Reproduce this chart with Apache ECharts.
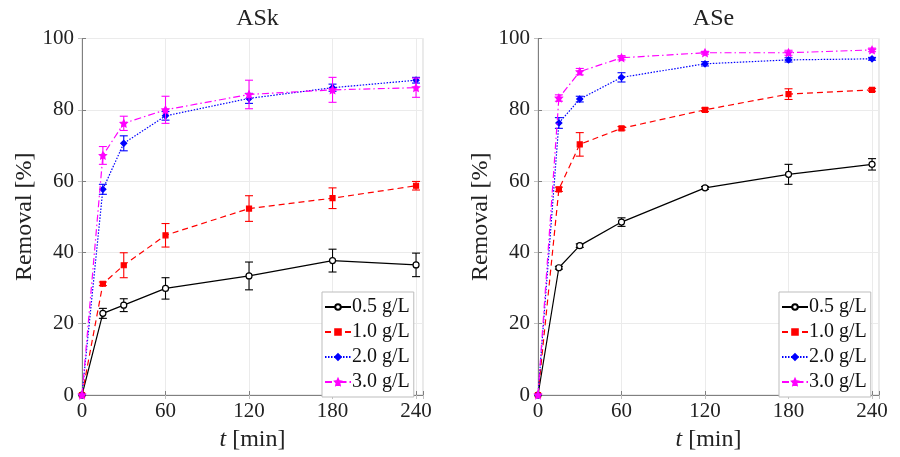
<!DOCTYPE html>
<html>
<head>
<meta charset="utf-8">
<script src="https://cdn.jsdelivr.net/npm/echarts@6/dist/echarts.min.js"></script>
<style>
  html, body { margin: 0; padding: 0; background: #fff; }
  #chart { width: 900px; height: 457px; }
</style>
</head>
<body>
<div id="chart"></div>
<script>
// Sampling times [min] and adsorbent doses
const times = [0, 15, 30, 60, 120, 180, 240];
const doses = ['0.5 g/L', '1.0 g/L', '2.0 g/L', '3.0 g/L'];
const xTicks = [0, 60, 120, 180, 240];
const panelTitles = ['ASk', 'ASe'];

// ASk: mean removal [%] and error (±)
const askMean05 = [0, 22.9, 25.2, 29.9, 33.4, 37.7, 36.5];
const askErr05  = [0, 1.4, 1.8, 3.0, 3.9, 3.2, 3.3];
const askMean10 = [0, 31.2, 36.4, 44.8, 52.3, 55.2, 58.7];
const askErr10  = [0, 0.5, 3.5, 3.3, 3.6, 2.9, 1.2];
const askMean20 = [0, 57.7, 70.6, 78.3, 83.2, 86.2, 88.3];
const askErr20  = [0, 1.4, 2.1, 1.2, 1.4, 1.0, 0.8];
const askMean30 = [0, 67.2, 76.2, 80.0, 84.3, 85.6, 86.2];
const askErr30  = [0, 2.5, 2.0, 3.8, 4.0, 3.5, 2.7];

// ASe: mean removal [%] and error (±)
const aseMean05 = [0, 35.7, 41.9, 48.5, 58.1, 61.9, 64.7];
const aseErr05  = [0, 0.4, 0.5, 1.2, 0.4, 2.8, 1.6];
const aseMean10 = [0, 57.7, 70.3, 74.8, 80.0, 84.4, 85.6];
const aseErr10  = [0, 0.6, 3.3, 0.5, 0.5, 1.5, 0.4];
const aseMean20 = [0, 76.3, 83.0, 89.1, 92.9, 94.0, 94.3];
const aseErr20  = [0, 1.5, 0.8, 1.3, 0.6, 0.6, 0.4];
const aseMean30 = [0, 83.3, 90.7, 94.6, 96.0, 96.0, 96.8];
const aseErr30  = [0, 0.9, 0.9, 0.6, 0.4, 0.7, 0.5];

const FONT = 'Liberation Serif';
const starPath = 'path://M0,-10L2.9,-4L9.5,-3.1L4.7,1.5L5.9,8.1L0,5L-5.9,8.1L-4.7,1.5L-9.5,-3.1L-2.9,-4Z';

// Per-dose look: colour, line dash, marker
const styles = [
  { color: '#000000', dash: 'solid',          symbol: 'circle',  size: 6, fill: '#ffffff' },
  { color: '#ff0000', dash: [6, 4],           symbol: 'rect',    size: 5, fill: '#ff0000' },
  { color: '#0000ff', dash: [1.5, 1.5],       symbol: 'diamond', size: 6, fill: '#0000ff' },
  { color: '#ff00ff', dash: [7, 3, 1.5, 3],   symbol: starPath,  size: 7, fill: '#ff00ff' }
];

const panels = [
  { means: [askMean05, askMean10, askMean20, askMean30], errs: [askErr05, askErr10, askErr20, askErr30] },
  { means: [aseMean05, aseMean10, aseMean20, aseMean30], errs: [aseErr05, aseErr10, aseErr20, aseErr30] }
];

const gridLeft = [82, 538];
const gridW = 341;
const gridTop = 38.5;
const gridH = 360;

const grids = [], xAxes = [], yAxes = [], titles = [], legends = [], series = [];

function errorBarRender(params, api) {
  const x = api.value(0), y = api.value(1), e = api.value(2);
  if (!e) return null;
  const top = api.coord([x, y + e]);
  const bot = api.coord([x, y - e]);
  const cap = 4;
  const style = { stroke: api.visual('color'), lineWidth: 1.1 };
  return {
    type: 'group',
    children: [
      { type: 'line', shape: { x1: top[0], y1: top[1], x2: bot[0], y2: bot[1] }, style },
      { type: 'line', shape: { x1: top[0] - cap, y1: top[1], x2: top[0] + cap, y2: top[1] }, style },
      { type: 'line', shape: { x1: bot[0] - cap, y1: bot[1], x2: bot[0] + cap, y2: bot[1] }, style }
    ]
  };
}

panels.forEach((p, gi) => {
  grids.push({
    left: gridLeft[gi], top: gridTop, width: gridW, height: gridH,
    show: true, borderColor: '#d4d4d4', borderWidth: 1, backgroundColor: '#ffffff'
  });
  // main bottom / left axes
  xAxes.push({
    gridIndex: gi, type: 'value', min: 0, max: 245, interval: 60,
    name: '{i|t} [min]', nameLocation: 'middle', nameGap: 33,
    nameTextStyle: { fontFamily: FONT, fontSize: 24, color: '#222',
      rich: { i: { fontFamily: FONT, fontStyle: 'italic', fontSize: 24, color: '#222' } } },
    axisLine: { show: true, lineStyle: { color: '#808080', width: 1 } },
    axisTick: { show: true, inside: true, length: 4, lineStyle: { color: '#808080' } },
    axisLabel: { fontFamily: FONT, fontSize: 21, color: '#222', margin: 6,
      formatter: v => (xTicks.indexOf(v) >= 0 ? String(v) : '') },
    splitLine: { show: true, lineStyle: { color: '#ebebeb', width: 1 } }
  });
  yAxes.push({
    gridIndex: gi, type: 'value', min: 0, max: 100, interval: 20,
    name: 'Removal [%]', nameLocation: 'middle', nameGap: 45, nameRotate: 90,
    nameTextStyle: { fontFamily: FONT, fontSize: 24, color: '#222' },
    axisLine: { show: true, lineStyle: { color: '#808080', width: 1 } },
    axisTick: { show: true, inside: true, length: 4, lineStyle: { color: '#808080' } },
    axisLabel: { fontFamily: FONT, fontSize: 21, color: '#222', margin: 8 },
    splitLine: { show: true, lineStyle: { color: '#ebebeb', width: 1 } }
  });
  titles.push({
    text: panelTitles[gi], left: gridLeft[gi] + gridW / 2, top: 2, textAlign: 'center',
    textStyle: { fontFamily: FONT, fontSize: 24, fontWeight: 'normal', color: '#222' }
  });
  legends.push({
    data: doses, orient: 'vertical',
    left: gi === 0 ? 322 : 779, top: 292,
    itemWidth: 26, itemHeight: 7, itemGap: 5,
    padding: [5, 4, 5, 2],
    backgroundColor: '#ffffff', borderColor: '#bdbdbd', borderWidth: 1, borderRadius: 0,
    selectedMode: false,
    textStyle: { fontFamily: FONT, fontSize: 20, lineHeight: 19.5, color: '#111', padding: [0, 0, 0, -4] }
  });
});

// top / right companion axes (tick marks only, box style)
panels.forEach((p, gi) => {
  xAxes.push({
    gridIndex: gi, type: 'value', position: 'top', min: 0, max: 245, interval: 60,
    axisLine: { show: false }, axisLabel: { show: false }, splitLine: { show: false },
    axisTick: { show: true, inside: true, length: 4, lineStyle: { color: '#c0c0c0' } }
  });
  yAxes.push({
    gridIndex: gi, type: 'value', position: 'right', min: 0, max: 100, interval: 20,
    axisLine: { show: false }, axisLabel: { show: false }, splitLine: { show: false },
    axisTick: { show: true, inside: true, length: 4, lineStyle: { color: '#c0c0c0' } }
  });
});

panels.forEach((p, gi) => {
  p.means.forEach((m, k) => {
    const st = styles[k];
    series.push({
      type: 'line', name: doses[k], xAxisIndex: gi, yAxisIndex: gi,
      data: times.map((t, i) => [t, m[i]]),
      symbol: st.symbol, symbolSize: st.size, showSymbol: true,
      lineStyle: { color: st.color, width: 1.2, type: st.dash },
      itemStyle: { color: st.fill, borderColor: st.color, borderWidth: 1.2 },
      emphasis: { disabled: true }, animation: false, z: 3 + k
    });
    series.push({
      type: 'custom', name: doses[k] + ' error', xAxisIndex: gi, yAxisIndex: gi,
      data: times.map((t, i) => [t, m[i], p.errs[k][i]]),
      renderItem: errorBarRender,
      itemStyle: { color: st.color },
      animation: false, z: 3 + k, silent: true
    });
  });
});

const chart = echarts.init(document.getElementById('chart'), null, { renderer: 'canvas' });
chart.setOption({
  backgroundColor: '#ffffff',
  animation: false,
  title: titles,
  legend: legends,
  grid: grids,
  xAxis: xAxes,
  yAxis: yAxes,
  series: series
});
</script>
</body>
</html>
